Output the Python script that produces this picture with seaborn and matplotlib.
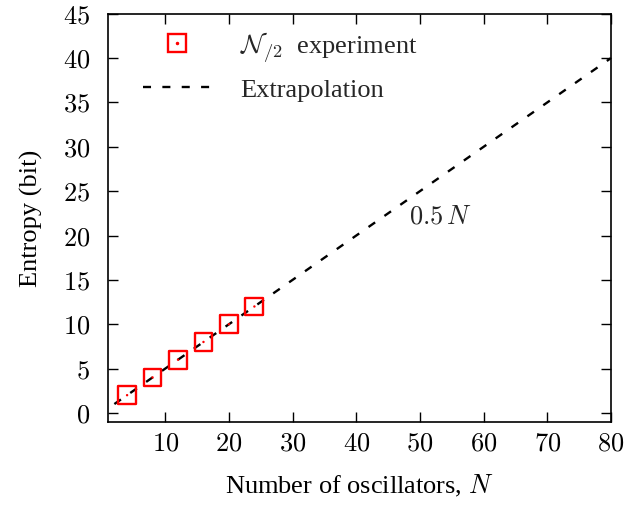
import matplotlib
matplotlib.use("Agg")
import matplotlib.pyplot as plt
from matplotlib.lines import Line2D
import numpy as np
import pandas as pd
import seaborn as sns

# Measured entropy for N/2 partitions and the linear extrapolation 0.5 N
osc_n = [4, 8, 12, 16, 20, 24]
entropy_bits = [2, 4, 6, 8, 10, 12]
extrap_n = [2, 80]
extrap_slope = 0.5
x_ticks = [10, 20, 30, 40, 50, 60, 70, 80]
y_ticks = [0, 5, 10, 15, 20, 25, 30, 35, 40, 45]

sns.set_theme(style="ticks")
plt.rcParams["font.family"] = ["Liberation Serif", "DejaVu Serif"]
plt.rcParams["mathtext.fontset"] = "cm"
plt.rcParams["font.size"] = 19

DASH = (0, (3.4, 4.8))

fig = plt.figure(figsize=(6.39, 5.10), dpi=100)
ax = fig.add_axes([0.169, 0.171, 0.787, 0.800])

exp_df = pd.DataFrame({"N": osc_n, "S": entropy_bits})
ext_df = pd.DataFrame({"N": extrap_n, "S": [extrap_slope * n for n in extrap_n]})

sns.lineplot(data=ext_df, x="N", y="S", ax=ax, color="black", lw=1.7,
             linestyle=DASH, zorder=2)
sns.scatterplot(data=exp_df, x="N", y="S", ax=ax, marker="s", s=165,
                facecolor="none", edgecolor="red", linewidth=1.7, zorder=3)
sns.scatterplot(data=exp_df, x="N", y="S", ax=ax, marker="o", s=3,
                color="red", edgecolor="none", zorder=4)

ax.set_xlim(1, 80)
ax.set_ylim(-1, 45)
ax.set_xticks(x_ticks)
ax.set_yticks(y_ticks)
ax.set_xticklabels([f"${t}$" for t in x_ticks])
ax.set_yticklabels([f"${t}$" for t in y_ticks])
ax.tick_params(axis="both", direction="in", top=True, right=True, length=7,
               width=1, labelsize=19, colors="black")
ax.tick_params(axis="y", pad=13)
ax.tick_params(axis="x", pad=8)
for s in ax.spines.values():
    s.set_linewidth(1.2)
    s.set_color("black")

ax.set_xlabel("Number of oscillators, $N$", fontsize=19, labelpad=12,
              color="black")
ax.set_ylabel("Entropy (bit)", fontsize=19, labelpad=14, color="black")

ax.text(48.3, 22.2, r"$0.5\,N$", fontsize=19, ha="left", va="center")

sq = Line2D([], [], marker="s", markersize=12.5, markerfacecolor="none",
            markeredgecolor="red", markeredgewidth=1.7, linestyle="none")
dot = Line2D([], [], marker="o", markersize=1.5, color="red", linestyle="none")
dash = Line2D([], [], color="black", lw=1.7, linestyle=DASH)
ax.legend([(sq, dot), dash],
          [r"$\mathcal{N}_{/2}$  experiment", "Extrapolation"],
          loc="upper left", bbox_to_anchor=(0.022, 1.02), frameon=False,
          fontsize=19, handlelength=2.6, handletextpad=1.1, labelspacing=0.52)

fig.savefig("out.png", dpi=100)
